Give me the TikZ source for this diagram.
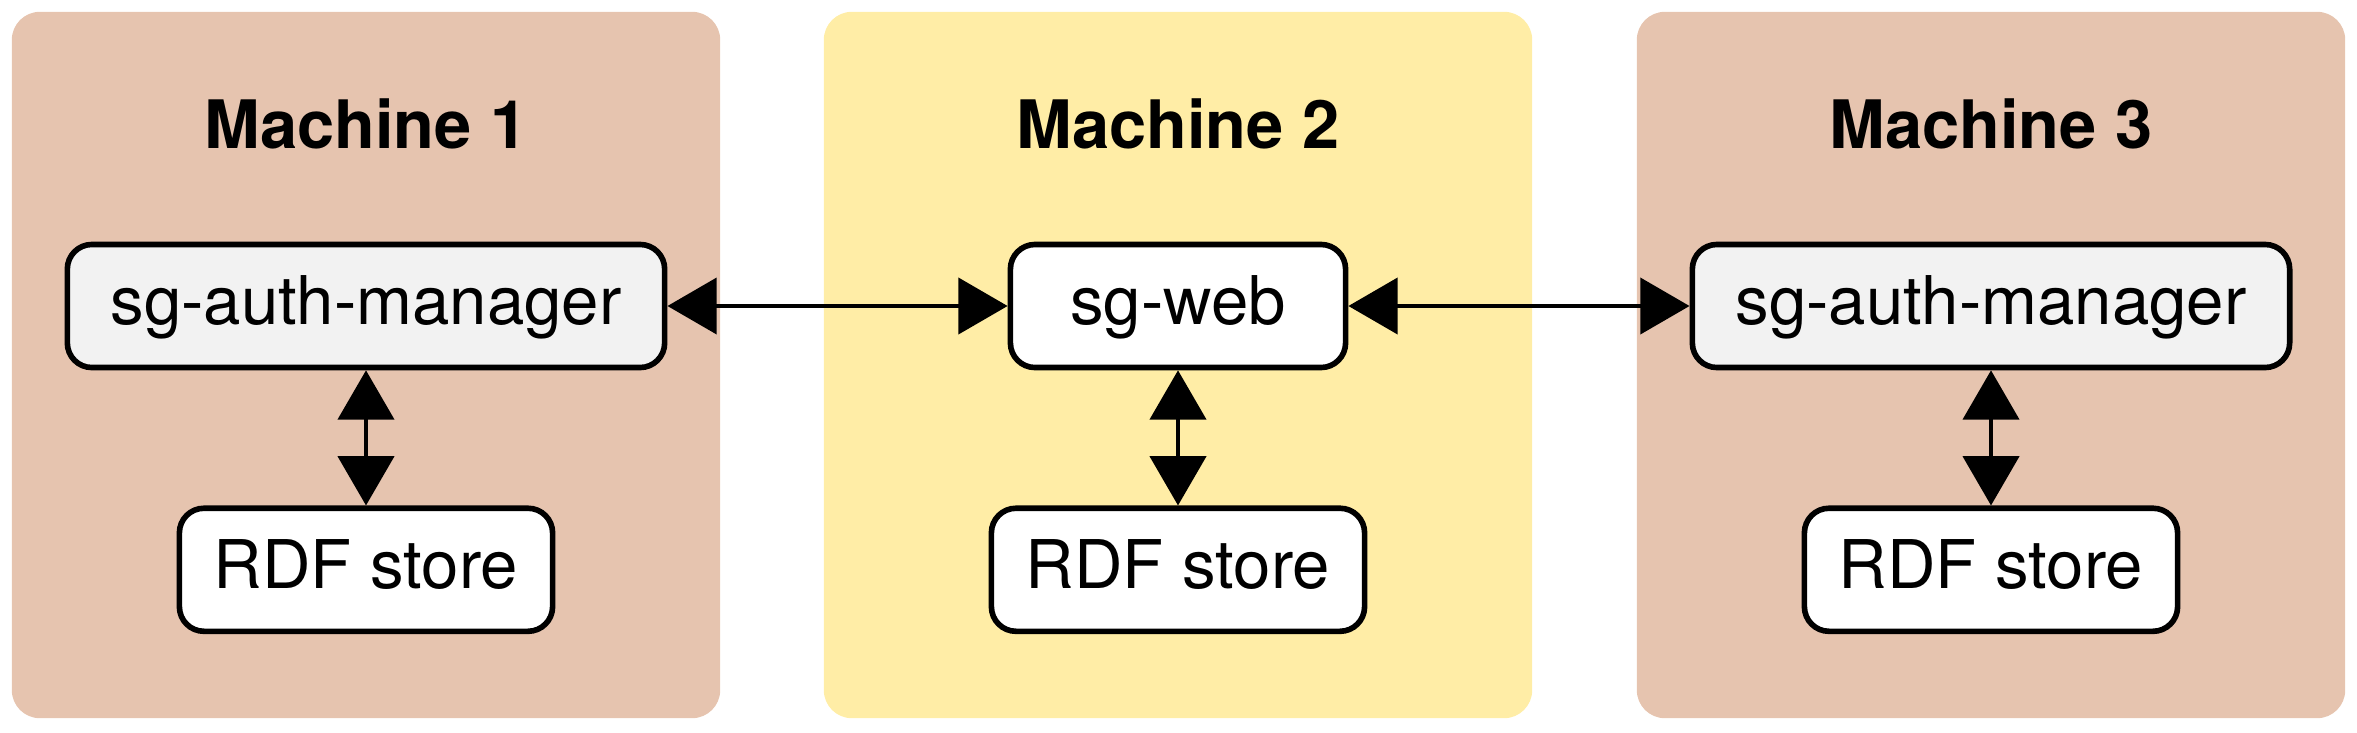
\documentclass[tikz,border=0pt]{standalone}
\usepackage{fontspec}
\setmainfont{TeX Gyre Heros}
\usepackage{tikz}
\usetikzlibrary{positioning,arrows.meta}

\definecolor{machinebrown}{HTML}{E6C4AF}
\definecolor{machineyellow}{HTML}{FFEDA6}
\definecolor{servicegrey}{HTML}{F2F2F2}

\tikzset{
  machine/.style={rounded corners=8pt,minimum width=7.08cm,minimum height=7.06cm,inner sep=0pt},
  machinetitle/.style={anchor=base,font=\fontsize{19}{23}\selectfont\bfseries},
  service/.style={draw,line width=1.6pt,rounded corners=7pt,fill=white,minimum height=1.23cm,
    text height=13.5pt,text depth=3pt,font=\fontsize{19.1}{23}\selectfont},
  link/.style={{Triangle[length=14pt,width=16pt]}-{Triangle[length=14pt,width=16pt]},line width=0.9pt}
}

\begin{document}
\begin{tikzpicture}[x=0.01cm,y=0.01cm]

  \useasboundingbox (0,0) rectangle (2357,732);

  % Machines
  \node [machine,fill=machinebrown] (m1) at (366,367) {};
  \node [machine,fill=machineyellow] (m2) at (1178,367) {};
  \node [machine,fill=machinebrown] (m3) at (1991,367) {};

  \node [machinetitle] (title1) at (366,584) {Machine 1};
  \node [machinetitle] (title2) at (1178,584) {Machine 2};
  \node [machinetitle] (title3) at (1991,584) {Machine 3};

  % Machine 1
  \node [service,fill=servicegrey,minimum width=5.97cm] (auth1) at (366,426) {sg-auth-manager};
  \node [service,minimum width=3.73cm,below=1.35cm of auth1] (rdf1) {RDF store};
  \draw [link] (auth1) -- (rdf1);

  % Machine 2
  \node [service,minimum width=3.35cm] (web) at (1178,426) {sg-web};
  \node [service,minimum width=3.73cm,below=1.35cm of web] (rdf2) {RDF store};
  \draw [link] (web) -- (rdf2);

  % Machine 3
  \node [service,fill=servicegrey,minimum width=5.97cm] (auth3) at (1991,426) {sg-auth-manager};
  \node [service,minimum width=3.73cm,below=1.35cm of auth3] (rdf3) {RDF store};
  \draw [link] (auth3) -- (rdf3);

  % Between machines
  \draw [link] (auth1) -- (web);
  \draw [link] (web) -- (auth3);

\end{tikzpicture}
\end{document}
